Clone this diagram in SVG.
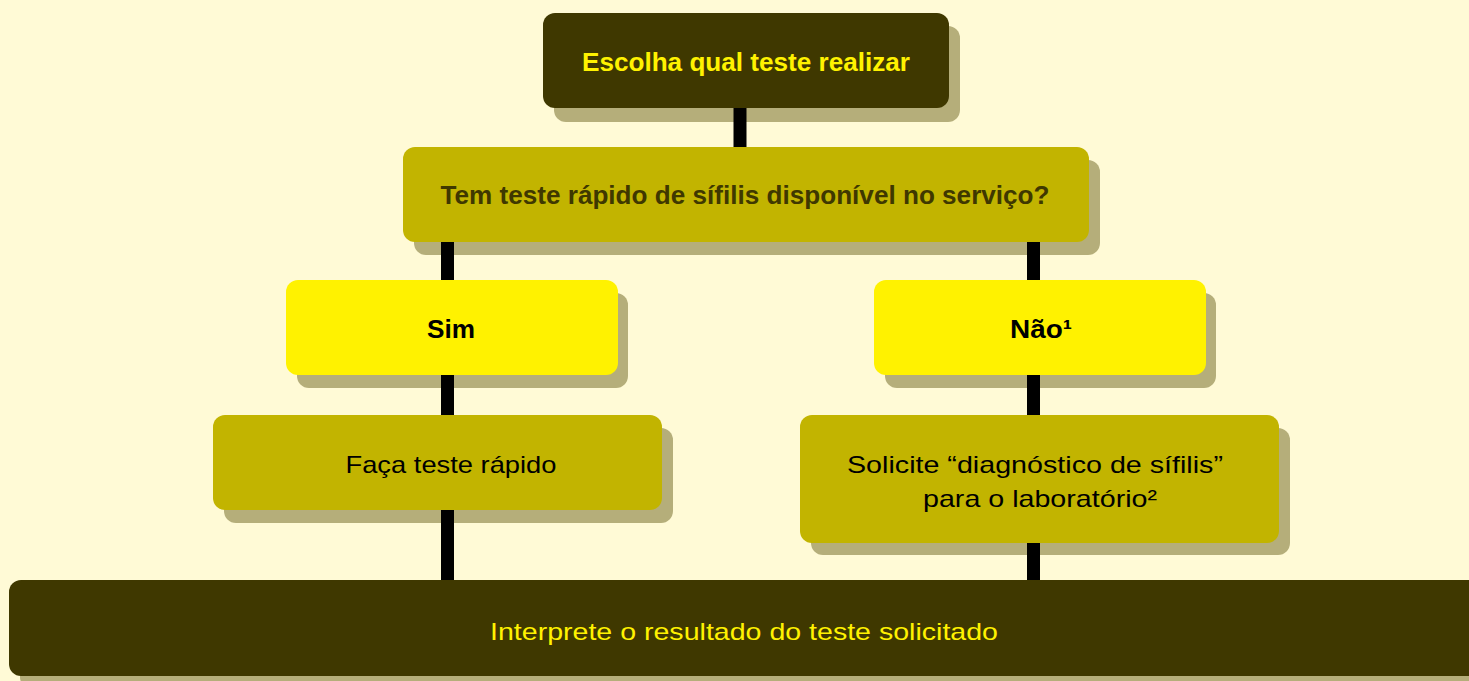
<svg xmlns="http://www.w3.org/2000/svg" width="1469" height="681" viewBox="0 0 1469 681">
<style>
.bg{fill:#FFFAD6}
.sh{fill:#B5AE7A}
.dark{fill:#3F3800}
.olive{fill:#C2B400}
.yel{fill:#FFF200}
.t{font-family:"Liberation Sans",Arial,sans-serif;text-anchor:middle}
.b{font-weight:bold}
.conn{stroke:#000;stroke-width:13;fill:none}
</style>
<rect class="bg" x="0" y="0" width="1469" height="681"/>
<g id="n1">
<rect class="sh" x="554" y="26" width="406" height="96" rx="12"/>
<rect class="dark" x="543" y="13" width="406" height="95" rx="12"/>
<text class="t b" x="746" y="71" font-size="25" fill="#FFF200" textLength="328" lengthAdjust="spacingAndGlyphs">Escolha qual teste realizar</text>
</g>
<g id="n2">
<rect class="sh" x="414" y="160" width="686" height="95" rx="12"/>
<rect class="olive" x="403" y="147" width="686" height="95" rx="12"/>
<text class="t b" x="745" y="204" font-size="26" fill="#3F3800" textLength="609" lengthAdjust="spacingAndGlyphs">Tem teste rápido de sífilis disponível no serviço?</text>
</g>
<g id="n3">
<rect class="sh" x="297" y="293" width="331" height="95" rx="12"/>
<rect class="yel" x="286" y="280" width="332" height="95" rx="12"/>
<text class="t b" x="451" y="338" font-size="25" fill="#000" textLength="48" lengthAdjust="spacingAndGlyphs">Sim</text>
</g>
<g id="n4">
<rect class="sh" x="885" y="293" width="331" height="95" rx="12"/>
<rect class="yel" x="874" y="280" width="332" height="95" rx="12"/>
<text class="t b" x="1041" y="338" font-size="25" fill="#000" textLength="62" lengthAdjust="spacingAndGlyphs">Não¹</text>
</g>
<g id="n5">
<rect class="sh" x="224" y="428" width="449" height="95" rx="12"/>
<rect class="olive" x="213" y="415" width="449" height="95" rx="12"/>
<text class="t" x="451" y="473" font-size="24" fill="#000" textLength="211" lengthAdjust="spacingAndGlyphs">Faça teste rápido</text>
</g>
<g id="n6">
<rect class="sh" x="811" y="428" width="479" height="127" rx="12"/>
<rect class="olive" x="800" y="415" width="479" height="128" rx="12"/>
<text class="t" x="1035" y="473" font-size="24" fill="#000" textLength="376" lengthAdjust="spacingAndGlyphs">Solicite “diagnóstico de sífilis”</text>
<text class="t" x="1040" y="507" font-size="24" fill="#000" textLength="234" lengthAdjust="spacingAndGlyphs">para o laboratório²</text>
</g>
<g id="n7">
<rect class="sh" x="20" y="593" width="1480" height="96" rx="12"/>
<rect class="dark" x="9" y="580" width="1480" height="96" rx="12"/>
<text class="t" x="744" y="640" font-size="24" fill="#FFF200" textLength="508" lengthAdjust="spacingAndGlyphs">Interprete o resultado do teste solicitado</text>
</g>
<g id="connectors" class="conn">
<line x1="740" y1="108" x2="740" y2="147"/>
<line x1="447.5" y1="242" x2="447.5" y2="280"/>
<line x1="1033.5" y1="242" x2="1033.5" y2="280"/>
<line x1="447.5" y1="375" x2="447.5" y2="415"/>
<line x1="1033.5" y1="375" x2="1033.5" y2="415"/>
<line x1="447.5" y1="510" x2="447.5" y2="580"/>
<line x1="1033.5" y1="543" x2="1033.5" y2="580"/>
</g>
</svg>
